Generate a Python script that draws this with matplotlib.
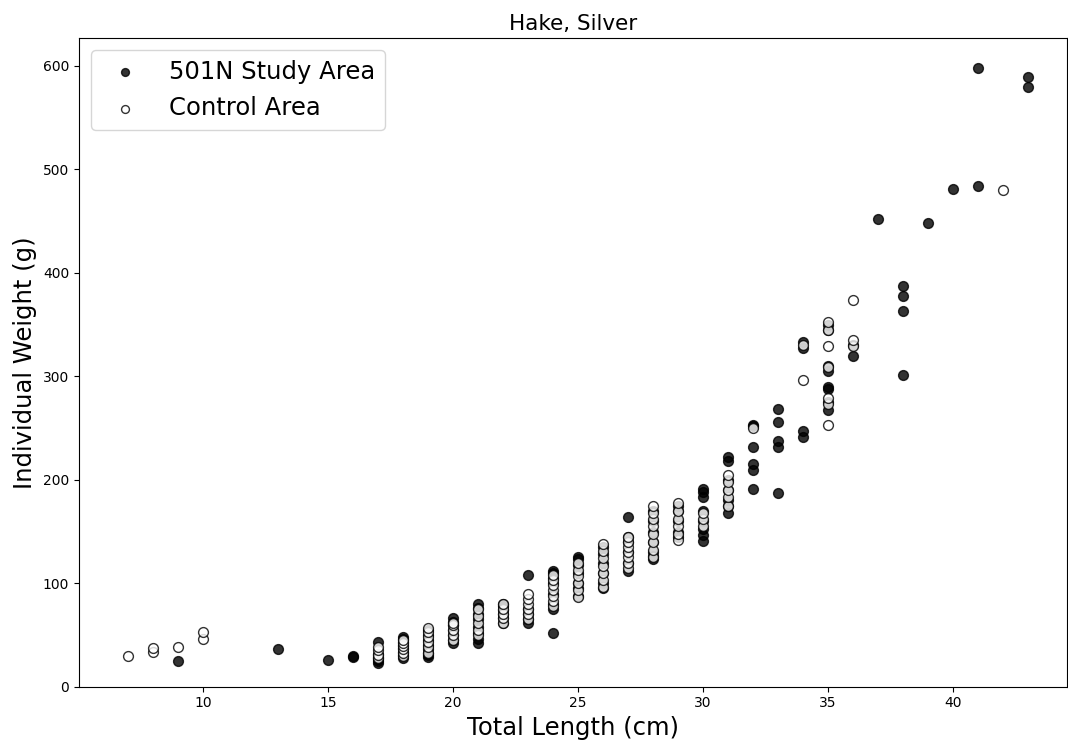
import matplotlib
matplotlib.use('Agg')
import matplotlib.pyplot as plt

# 501N study area (filled markers)
study_len = [9, 13, 15, 16, 16,
             17, 17, 17, 17, 17, 17,
             18, 18, 18, 18, 18, 18, 18, 18,
             19, 19, 19, 19, 19, 19, 19, 19,
             20, 20, 20, 20, 20, 20, 20,
             21, 21, 21, 21, 21, 21, 21, 21,
             22, 22, 22, 22, 22, 22,
             23, 23, 23, 23, 23,
             24, 24, 24, 24, 24, 24, 24, 24,
             25, 25, 25, 25, 25, 25, 25,
             26, 26, 26, 26, 26, 26,
             27, 27, 27, 27, 27, 27,
             28, 28, 28, 28, 28, 28, 28,
             29, 29, 29, 29, 29,
             30, 30, 30, 30, 30, 30, 30, 30,
             31, 31, 31, 31, 31, 31, 31,
             32, 32, 32, 32, 32, 32,
             33, 33, 33, 33, 33,
             34, 34, 34, 34,
             35, 35, 35, 35, 35, 35, 35, 35,
             36, 36, 37, 38, 38, 38, 38, 39, 40, 41, 41, 43, 43]
study_wt = [25, 36, 26, 30, 29,
            23, 25, 27, 29, 32, 43,
            28, 31, 34, 37, 40, 43, 46, 48,
            29, 31, 33, 36, 40, 45, 50, 55,
            42, 45, 50, 55, 60, 63, 66,
            42, 46, 52, 58, 65, 70, 76, 80,
            62, 66, 70, 74, 78, 80,
            62, 65, 70, 75, 108,
            52, 75, 80, 90, 100, 105, 110, 112,
            88, 95, 100, 110, 118, 123, 125,
            95, 100, 110, 120, 128, 135,
            112, 120, 130, 140, 145, 164,
            123, 126, 130, 140, 150, 160, 170,
            145, 150, 160, 170, 175,
            141, 147, 152, 160, 170, 183, 188, 191,
            168, 175, 180, 190, 200, 218, 222,
            191, 209, 215, 232, 252, 253,
            187, 232, 237, 256, 268,
            241, 247, 327, 333,
            267, 275, 288, 290, 305, 310, 345, 350,
            320, 330, 452, 301, 363, 378, 387, 448, 481, 484, 598, 580, 589]

# control area (open markers)
control_len = [7, 8, 8, 9, 10, 10,
               17, 17, 17, 17,
               18, 18, 18, 18, 18, 18,
               19, 19, 19, 19, 19, 19,
               20, 20, 20, 20, 20,
               21, 21, 21, 21, 21,
               22, 22, 22, 22, 22,
               23, 23, 23, 23, 23, 23,
               24, 24, 24, 24, 24, 24, 24,
               25, 25, 25, 25, 25, 25,
               26, 26, 26, 26, 26, 26, 26,
               27, 27, 27, 27, 27, 27, 27,
               28, 28, 28, 28, 28, 28, 28, 28,
               29, 29, 29, 29, 29, 29,
               30, 30, 30,
               31, 31, 31, 31, 31,
               32, 34, 34,
               35, 35, 35, 35, 35, 35, 35,
               36, 36, 36, 42]
control_wt = [30, 34, 37, 38, 46, 53,
              28, 31, 35, 38,
              30, 33, 36, 39, 42, 45,
              33, 38, 43, 48, 53, 57,
              45, 50, 55, 60, 62,
              50, 55, 62, 68, 75,
              62, 66, 70, 75, 80,
              65, 70, 75, 80, 85, 90,
              78, 83, 88, 93, 98, 103, 108,
              87, 93, 100, 107, 113, 120,
              96, 103, 110, 117, 124, 131, 138,
              115, 120, 125, 130, 135, 140, 145,
              125, 132, 140, 148, 155, 162, 168, 175,
              142, 148, 155, 162, 170, 178,
              155, 162, 168,
              175, 183, 190, 198, 205,
              250, 296, 330,
              253, 273, 279, 309, 329, 345, 352,
              329, 335, 374, 480]

fig = plt.figure(figsize=(10.68, 7.44), dpi=100)
ax = fig.add_axes([0.074, 0.077, 0.925, 0.872])

ax.scatter(study_len, study_wt, s=50, c='black', alpha=0.8, label='501N Study Area')
ax.scatter(control_len, control_wt, s=50, facecolors='white', edgecolors='black',
           alpha=0.8, label='Control Area')

ax.set_xlim(5.05, 44.55)
ax.set_ylim(0, 627)
ax.set_title('Hake, Silver', fontsize=15.5)
ax.set_xlabel('Total Length (cm)', fontsize=17.5)
ax.set_ylabel('Individual Weight (g)', fontsize=17.5)
ax.tick_params(labelsize=10)
ax.legend(loc='upper left', fontsize=17.5, markerscale=0.8)

fig.savefig('out.png', dpi=100)
